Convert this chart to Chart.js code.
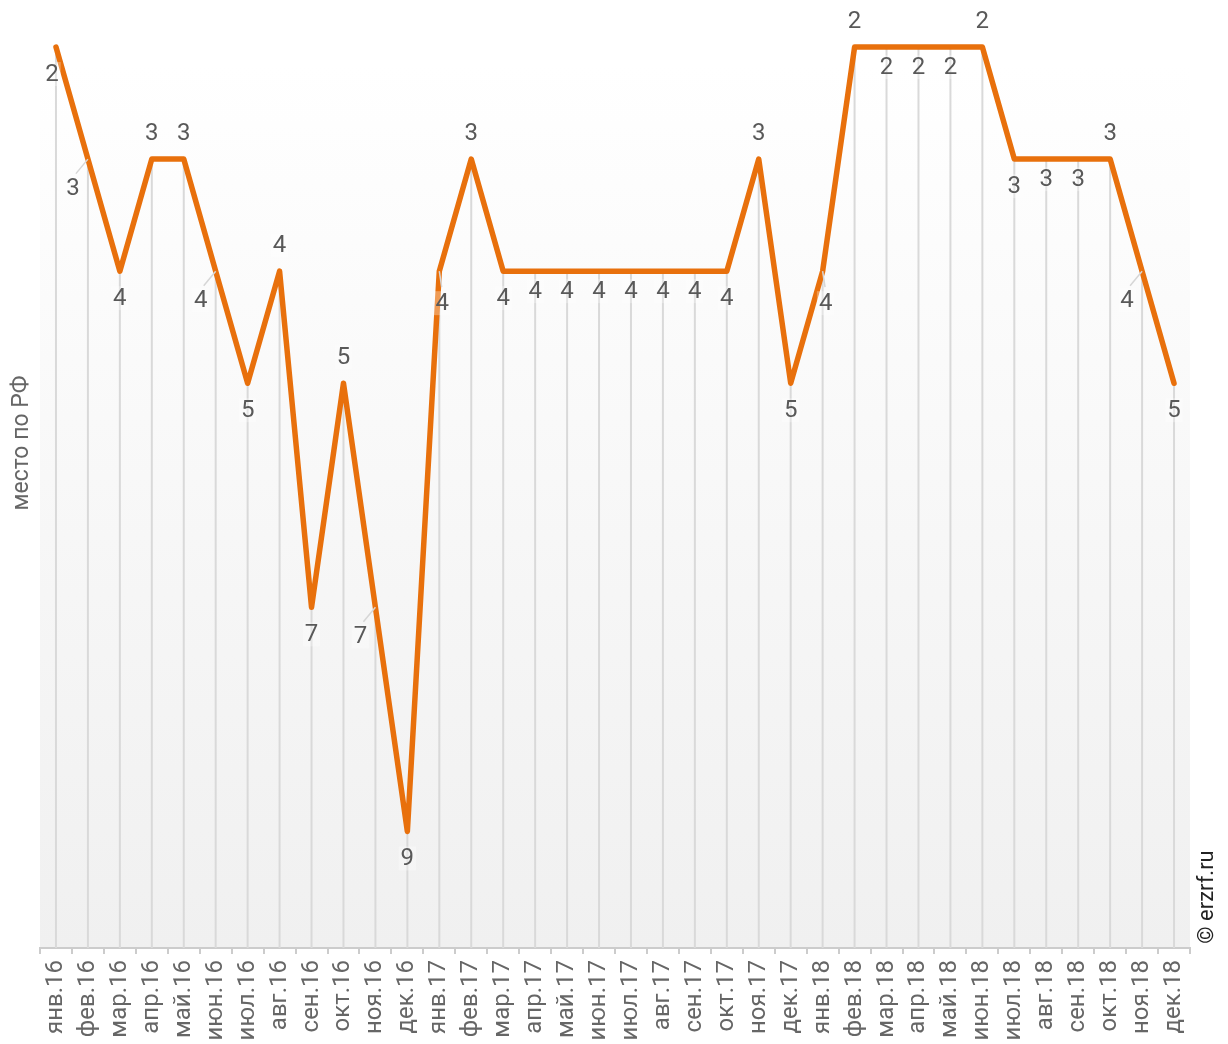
<!DOCTYPE html>
<html lang="ru">
<head>
<meta charset="utf-8">
<title>Место по РФ</title>
<script src="https://cdn.jsdelivr.net/npm/chart.js@4.4.1/dist/chart.umd.min.js"></script>
<style>
  html, body { margin: 0; padding: 0; background: #fff; overflow: hidden; }
  #wrap { position: relative; width: 1228px; height: 1044px; }
</style>
</head>
<body>
<div id="wrap"><canvas id="rankChart"></canvas></div>
<script>
// Monthly categories, Jan 2016 – Dec 2018
const months = [
  'янв.16', 'фев.16', 'мар.16', 'апр.16', 'май.16', 'июн.16',
  'июл.16', 'авг.16', 'сен.16', 'окт.16', 'ноя.16', 'дек.16',
  'янв.17', 'фев.17', 'мар.17', 'апр.17', 'май.17', 'июн.17',
  'июл.17', 'авг.17', 'сен.17', 'окт.17', 'ноя.17', 'дек.17',
  'янв.18', 'фев.18', 'мар.18', 'апр.18', 'май.18', 'июн.18',
  'июл.18', 'авг.18', 'сен.18', 'окт.18', 'ноя.18', 'дек.18'
];

// Place in the national ranking for each month
const ranks = [
  2, 3, 4, 3, 3, 4, 5, 4, 7, 5, 7, 9,
  4, 3, 4, 4, 4, 4, 4, 4, 4, 4, 3, 5,
  4, 2, 2, 2, 2, 2, 3, 3, 3, 3, 4, 5
];

const yTitle = 'место по РФ';
const credit = '© erzrf.ru';

const LINE_COLOR = '#e8700c';
const FONT = 'Roboto, "Open Sans", sans-serif';

Chart.defaults.font.family = FONT;

/**
 * Plot background: soft vertical gradient from white to light grey
 */
const plotBackground = {
  id: 'plotBackground',
  beforeDraw(chart) {
    const { ctx, chartArea } = chart;
    const top = 65;
    const grad = ctx.createLinearGradient(0, top, 0, chartArea.bottom);
    grad.addColorStop(0, '#ffffff');
    grad.addColorStop(1, '#f0f0f0');
    ctx.save();
    ctx.fillStyle = grad;
    ctx.fillRect(chartArea.left, top, chartArea.right - chartArea.left, chartArea.bottom - top);
    ctx.restore();
  }
};

/**
 * Vertical drop lines from every point down to the x axis
 */
const dropLines = {
  id: 'dropLines',
  beforeDatasetsDraw(chart) {
    const { ctx, chartArea } = chart;
    const meta = chart.getDatasetMeta(0);
    ctx.save();
    ctx.strokeStyle = '#d9d9d9';
    ctx.lineWidth = 2;
    meta.data.forEach(pt => {
      ctx.beginPath();
      ctx.moveTo(pt.x, pt.y);
      ctx.lineTo(pt.x, chartArea.bottom);
      ctx.stroke();
    });
    ctx.restore();
  }
};

/**
 * Value labels; placement depends on the local shape of the line
 * (rank axis is reversed, so a smaller value sits higher)
 */
function labelPlacement(values, i) {
  const v = values[i];
  const prev = values[i - 1];
  const next = values[i + 1];
  if (prev === undefined || next === undefined) return 'below';
  if (v === prev && v === next) return 'flat';
  if (v <= prev && v <= next) return 'above';
  if (v >= prev && v >= next) return 'below';
  return v > prev ? 'slopeDown' : 'slopeUp';
}

const valueLabels = {
  id: 'valueLabels',
  afterDatasetsDraw(chart) {
    const { ctx } = chart;
    const meta = chart.getDatasetMeta(0);
    const values = chart.data.datasets[0].data;
    ctx.save();
    ctx.font = '24px ' + FONT;
    ctx.textAlign = 'center';
    ctx.textBaseline = 'middle';
    meta.data.forEach((pt, i) => {
      const place = labelPlacement(values, i);
      let dx = 0, dy = 27, leader = false;
      if (place === 'above') dy = -26;
      else if (place === 'flat') dy = 20;
      else if (place === 'slopeDown') { dx = -15; dy = 29; leader = true; }
      else if (place === 'slopeUp') { dx = 3; dy = 32; leader = true; }
      if (i === 0) dx = -4;
      const x = pt.x + dx, y = pt.y + dy;
      if (leader) {
        ctx.strokeStyle = '#d6d6d6';
        ctx.lineWidth = 1.5;
        ctx.beginPath();
        ctx.moveTo(pt.x, pt.y);
        ctx.lineTo(pt.x + dx * 0.8, pt.y + dy * 0.5);
        ctx.stroke();
      }
      const text = String(values[i]);
      const w = ctx.measureText(text).width + 4;
      ctx.fillStyle = 'rgba(255,255,255,0.3)';
      ctx.fillRect(x - w / 2, y - 12, w, 24);
      ctx.fillStyle = '#595959';
      ctx.fillText(text, x, y + 1);
    });
    ctx.restore();
  }
};

/**
 * Rotated axis title and source credit
 */
const sideTexts = {
  id: 'sideTexts',
  afterDraw(chart) {
    const { ctx } = chart;
    ctx.save();
    ctx.textAlign = 'center';
    ctx.textBaseline = 'middle';
    ctx.font = '23px ' + FONT;
    ctx.fillStyle = '#666666';
    ctx.translate(22, 443);
    ctx.rotate(-Math.PI / 2);
    ctx.fillText(yTitle, 0, 0);
    ctx.restore();

    ctx.save();
    ctx.textAlign = 'center';
    ctx.textBaseline = 'middle';
    ctx.font = '22px ' + FONT;
    ctx.fillStyle = '#222222';
    ctx.translate(1207, 897);
    ctx.rotate(-Math.PI / 2);
    ctx.fillText(credit, 0, 0);
    ctx.restore();
  }
};

new Chart(document.getElementById('rankChart'), {
  type: 'line',
  data: {
    labels: months,
    datasets: [{
      data: ranks,
      borderColor: LINE_COLOR,
      borderWidth: 5.5,
      borderCapStyle: 'round',
      borderJoinStyle: 'round',
      tension: 0,
      pointRadius: 0,
      pointHoverRadius: 0,
      fill: false,
      clip: false
    }]
  },
  options: {
    responsive: true,
    maintainAspectRatio: false,
    animation: false,
    layout: { padding: { left: 40, right: 38, top: 0, bottom: 0 } },
    plugins: {
      legend: { display: false },
      tooltip: { enabled: false }
    },
    scales: {
      x: {
        offset: true,
        border: { color: '#cccccc', width: 2 },
        grid: {
          offset: true,
          drawOnChartArea: false,
          drawTicks: true,
          tickLength: 6,
          color: '#cccccc',
          lineWidth: 2
        },
        ticks: {
          autoSkip: false,
          minRotation: 90,
          maxRotation: 90,
          padding: 6,
          color: '#666666',
          font: { size: 24, family: FONT }
        },
        afterFit(scale) { scale.height = 96; }
      },
      y: {
        display: false,
        reverse: true,
        min: 1.58,
        max: 10.04
      }
    }
  },
  plugins: [plotBackground, dropLines, valueLabels, sideTexts]
});
</script>
</body>
</html>
